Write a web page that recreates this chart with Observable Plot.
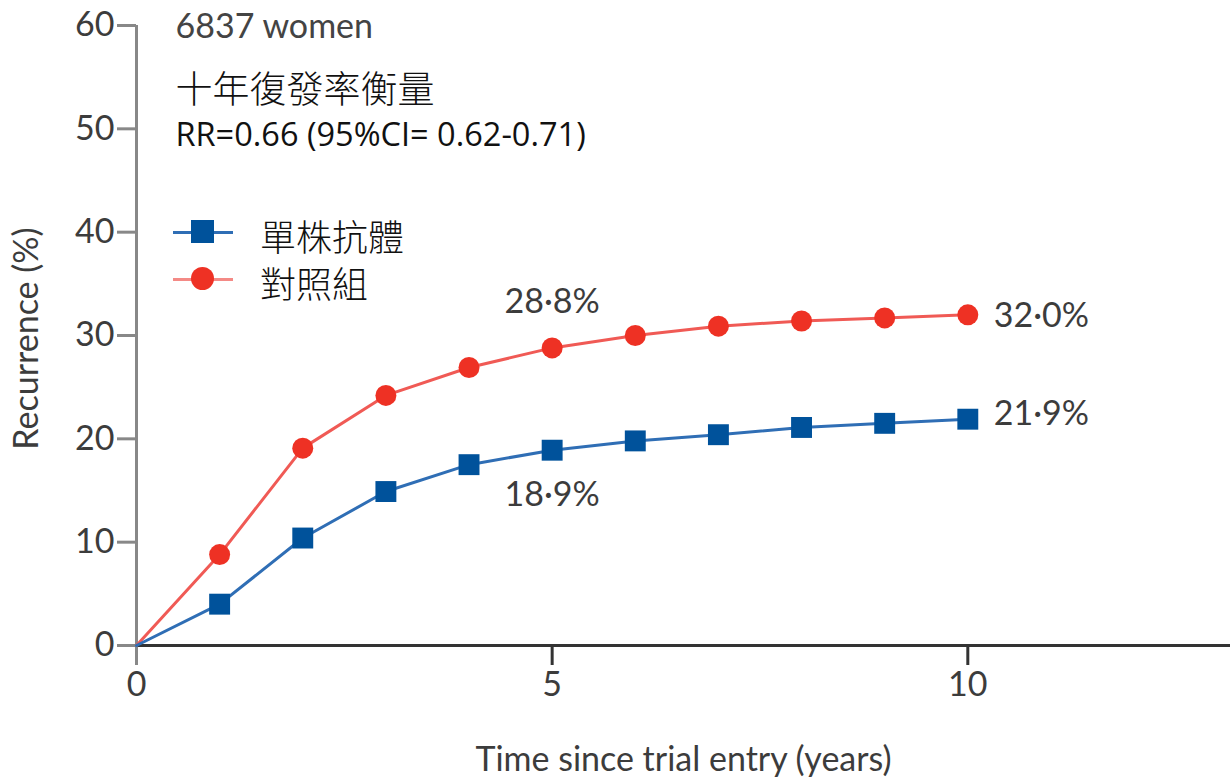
<!DOCTYPE html>
<html>
<head>
<meta charset="utf-8">
<script src="https://cdn.jsdelivr.net/npm/d3@7"></script>
<script src="https://cdn.jsdelivr.net/npm/@observablehq/plot@0.6"></script>
<style>
  html, body { margin: 0; padding: 0; background: #fff; }
  #wrap { position: relative; width: 1230px; height: 782px; }
  .leg { position: absolute; left: 173px; font-family: "Noto Sans CJK TC", sans-serif; font-size: 36px; color: #111; font-weight: 300; }
  .leg .ln { position: absolute; left: 0; width: 60px; height: 3px; }
  .leg .mk { position: absolute; left: 18px; width: 23px; height: 23px; }
  .leg .tx { position: absolute; left: 87px; white-space: nowrap; line-height: 1; }
</style>
</head>
<body>
<div id="wrap"></div>
<script>
// ---- data ----
const years = [0, 1, 2, 3, 4, 5, 6, 7, 8, 9, 10];
const antibody = [0, 4.0, 10.4, 14.9, 17.5, 18.9, 19.8, 20.4, 21.1, 21.5, 21.9];
const control = [0, 8.8, 19.1, 24.2, 26.9, 28.8, 30.0, 30.9, 31.4, 31.7, 32.0];
const seriesNames = ["單株抗體", "對照組"];
const xTicks = [0, 5, 10];
const yTicks = [0, 10, 20, 30, 40, 50, 60];
const headerLines = ["6837 women", "十年復發率衡量", "RR=0.66 (95%CI= 0.62-0.71)"];
const valueLabels = [
  {series: "對照組", x: 5, y: 28.8, text: "28·8%"},
  {series: "單株抗體", x: 5, y: 18.9, text: "18·9%"},
  {series: "對照組", x: 10, y: 32.0, text: "32·0%"},
  {series: "單株抗體", x: 10, y: 21.9, text: "21·9%"}
];
const xLabel = "Time since trial entry (years)";
const yLabel = "Recurrence (%)";

const blueMark = "#00529B", blueLine = "#2F6EB5";
const redMark = "#EE3124", redLine = "#F05A55";

const blueData = years.map((x, i) => ({x, y: antibody[i]}));
const redData = years.map((x, i) => ({x, y: control[i]}));
const latin = "Lato, 'Noto Sans', sans-serif";
const pick = (s, x) => valueLabels.filter(d => d.series === s && d.x === x);

const plot = Plot.plot({
  width: 1230,
  height: 782,
  marginLeft: 136,
  marginTop: 25,
  marginBottom: 137,
  marginRight: 0,
  style: {fontFamily: latin, background: "#fff", overflow: "visible"},
  x: {domain: [0, 13.16]},
  y: {domain: [0, 60]},
  marks: [
    Plot.axisY({ticks: yTicks, tickSize: 19, tickPadding: 3, stroke: "#888", strokeWidth: 3, fill: "#3c3c3c", fontSize: 34, label: null}),
    Plot.axisX({ticks: xTicks, tickSize: 20, tickPadding: 6, stroke: d => d === 0 ? "#888" : "#333", strokeWidth: 3, fill: "#3c3c3c", fontSize: 34, label: null}),
    Plot.ruleX([0], {stroke: "#888", strokeWidth: 3}),
    Plot.ruleY([0], {stroke: "#333", strokeWidth: 3}),
    Plot.line(redData, {x: "x", y: "y", stroke: redLine, strokeWidth: 3}),
    Plot.line(blueData, {x: "x", y: "y", stroke: blueLine, strokeWidth: 3}),
    Plot.dot(redData.filter(d => d.x > 0), {x: "x", y: "y", r: 10.5, fill: redMark, symbol: "circle"}),
    Plot.dot(blueData.filter(d => d.x > 0), {x: "x", y: "y", r: 11.8, fill: blueMark, symbol: "square"}),
    Plot.text(pick("對照組", 5), {x: "x", y: "y", text: "text", dy: -46, fontSize: 34, fill: "#3c3c3c"}),
    Plot.text(pick("單株抗體", 5), {x: "x", y: "y", text: "text", dy: 45, fontSize: 34, fill: "#3c3c3c"}),
    Plot.text(pick("對照組", 10), {x: "x", y: "y", text: "text", dx: 26, dy: 1, textAnchor: "start", fontSize: 34, fill: "#3c3c3c"}),
    Plot.text(pick("單株抗體", 10), {x: "x", y: "y", text: "text", dx: 26, dy: -5, textAnchor: "start", fontSize: 34, fill: "#3c3c3c"}),
    Plot.text([headerLines[0]], {frameAnchor: "top-left", dx: 39, dy: 2, lineAnchor: "middle", textAnchor: "start", fontSize: 34, fill: "#444"}),
    Plot.text([headerLines[1]], {frameAnchor: "top-left", dx: 39, dy: 66, lineAnchor: "middle", textAnchor: "start", fontSize: 37, fill: "#111", fontFamily: "'Noto Sans CJK TC', sans-serif", fontWeight: 300}),
    Plot.text([headerLines[2]], {frameAnchor: "top-left", dx: 39, dy: 110, lineAnchor: "middle", textAnchor: "start", fontSize: 32.5, fill: "#111", fontFamily: "'Open Sans', sans-serif"}),
    Plot.text([xLabel], {frameAnchor: "bottom", dy: 115, lineAnchor: "middle", textAnchor: "middle", fontSize: 34, fill: "#3c3c3c"}),
    Plot.text([yLabel], {frameAnchor: "left", dx: -109, dy: 3, rotate: -90, lineAnchor: "middle", textAnchor: "middle", fontSize: 34, fill: "#3c3c3c"})
  ]
});

const wrap = document.getElementById("wrap");
wrap.appendChild(plot);

// legend (HTML overlay inside plot area)
const legendItems = [
  {name: seriesNames[0], line: blueLine, mark: blueMark, shape: "square", top: 220},
  {name: seriesNames[1], line: "#F48A86", mark: redMark, shape: "circle", top: 267}
];
for (const it of legendItems) {
  const d = document.createElement("div");
  d.className = "leg";
  d.style.top = it.top + "px";
  d.innerHTML = `<div class="ln" style="top:11px;background:${it.line}"></div>` +
    `<div class="mk" style="top:0;background:${it.mark};${it.shape === "circle" ? "border-radius:50%;" : ""}"></div>` +
    `<div class="tx" style="top:-3px">${it.name}</div>`;
  wrap.appendChild(d);
}
</script>
</body>
</html>
